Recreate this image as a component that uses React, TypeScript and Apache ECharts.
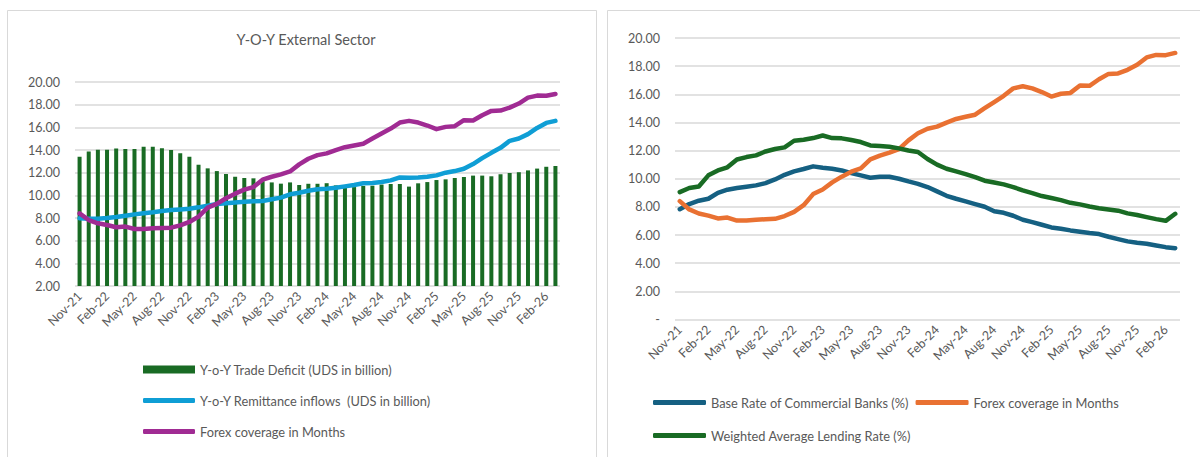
import React, { useEffect, useRef } from "react";
import * as echarts from "echarts";

const months = [
  "Nov-21", "Dec-21", "Jan-22", "Feb-22", "Mar-22", "Apr-22", "May-22", "Jun-22", "Jul-22", "Aug-22", "Sep-22", "Oct-22",
  "Nov-22", "Dec-22", "Jan-23", "Feb-23", "Mar-23", "Apr-23", "May-23", "Jun-23", "Jul-23", "Aug-23", "Sep-23", "Oct-23",
  "Nov-23", "Dec-23", "Jan-24", "Feb-24", "Mar-24", "Apr-24", "May-24", "Jun-24", "Jul-24", "Aug-24", "Sep-24", "Oct-24",
  "Nov-24", "Dec-24", "Jan-25", "Feb-25", "Mar-25", "Apr-25", "May-25", "Jun-25", "Jul-25", "Aug-25", "Sep-25", "Oct-25",
  "Nov-25", "Dec-25", "Jan-26", "Feb-26", "Mar-26",
];

const tradeDeficit = [
  13.40, 13.87, 14.02, 14.02, 14.13, 14.08, 14.08, 14.28, 14.28, 14.16, 13.99, 13.72,
  13.40, 12.70, 12.38, 12.14, 11.88, 11.64, 11.53, 11.50, 11.25, 11.14, 11.03, 11.14,
  10.91, 11.02, 11.02, 11.07, 10.88, 10.75, 10.73, 10.83, 10.85, 10.95, 11.00, 11.00,
  10.77, 11.06, 11.17, 11.35, 11.41, 11.53, 11.62, 11.74, 11.74, 11.68, 11.86, 11.97,
  12.04, 12.20, 12.36, 12.52, 12.59,
];

const remittance = [
  7.97, 7.94, 7.94, 8.00, 8.09, 8.20, 8.32, 8.41, 8.50, 8.62, 8.70, 8.76,
  8.82, 8.94, 9.09, 9.24, 9.30, 9.37, 9.43, 9.47, 9.50, 9.65, 9.80, 10.09,
  10.23, 10.41, 10.53, 10.59, 10.67, 10.79, 10.91, 11.06, 11.09, 11.17, 11.32, 11.58,
  11.55, 11.58, 11.64, 11.76, 12.00, 12.14, 12.35, 12.76, 13.28, 13.75, 14.19, 14.81,
  15.01, 15.40, 15.95, 16.39, 16.57,
];

const forexCoverage = [
  8.41, 7.82, 7.53, 7.38, 7.18, 7.24, 7.03, 7.03, 7.09, 7.12, 7.15, 7.35,
  7.65, 8.12, 8.91, 9.24, 9.74, 10.15, 10.50, 10.73, 11.38, 11.64, 11.85, 12.11,
  12.73, 13.23, 13.55, 13.70, 13.99, 14.25, 14.40, 14.55, 15.01, 15.45, 15.89, 16.42,
  16.57, 16.42, 16.16, 15.84, 16.04, 16.10, 16.63, 16.60, 17.07, 17.45, 17.48, 17.74,
  18.10, 18.62, 18.80, 18.78, 18.94,
];

const baseRate = [
  7.84, 8.20, 8.44, 8.58, 9.00, 9.22, 9.34, 9.43, 9.53, 9.69, 9.95, 10.28,
  10.52, 10.69, 10.88, 10.78, 10.71, 10.59, 10.40, 10.24, 10.07, 10.14, 10.14, 10.00,
  9.81, 9.64, 9.41, 9.10, 8.79, 8.58, 8.39, 8.20, 8.01, 7.69, 7.58, 7.37,
  7.09, 6.92, 6.73, 6.54, 6.45, 6.33, 6.23, 6.14, 6.07, 5.88, 5.71, 5.55,
  5.45, 5.38, 5.26, 5.14, 5.07,
];

const lendingRate = [
  9.05, 9.34, 9.45, 10.24, 10.59, 10.81, 11.37, 11.54, 11.66, 11.94, 12.11, 12.23,
  12.70, 12.77, 12.89, 13.07, 12.89, 12.87, 12.75, 12.61, 12.37, 12.32, 12.27, 12.16,
  12.01, 11.90, 11.40, 11.00, 10.71, 10.52, 10.33, 10.12, 9.86, 9.73, 9.60, 9.41,
  9.17, 8.98, 8.77, 8.63, 8.48, 8.29, 8.18, 8.03, 7.91, 7.82, 7.73, 7.54,
  7.42, 7.27, 7.13, 7.01, 7.51,
];

const names = {
  trade: "Y-o-Y Trade Deficit (UDS in billion)",
  remit: "Y-o-Y Remittance inflows  (UDS in billion)",
  forexL: "Forex coverage in Months",
  base: "Base Rate of Commercial Banks (%)",
  forexR: "Forex coverage in Months ",
  walr: "Weighted Average Lending Rate (%)",
};

const C = {
  bar: "#196B24",
  remit: "#0F9ED5",
  purple: "#A02B93",
  base: "#156082",
  orange: "#E97132",
  green: "#196B24",
  text: "#595959",
  grid: "#D9D9D9",
};

const FONT = "Lato";

function xAxis(gridIndex: number) {
  return {
    type: "category",
    gridIndex,
    data: months,
    boundaryGap: true,
    axisLine: { show: false },
    axisTick: { show: false },
    axisLabel: {
      interval: 2,
      rotate: 45,
      margin: 8,
      color: C.text,
      fontSize: 12.5,
      fontFamily: FONT,
    },
  };
}

function yAxis(gridIndex: number, min: number, zeroDash: boolean) {
  return {
    type: "value",
    gridIndex,
    min,
    max: 20,
    interval: 2,
    axisLine: { show: false },
    axisTick: { show: false },
    splitLine: { lineStyle: { color: C.grid, width: 1.5 } },
    axisLabel: {
      margin: 15,
      color: C.text,
      fontSize: 12.5,
      fontFamily: FONT,
      formatter: (v: number) => (zeroDash && v === 0 ? "-" : v.toFixed(2)),
    },
  };
}

function lineSeries(name: string, data: number[], color: string, idx: number) {
  return {
    name,
    type: "line",
    xAxisIndex: idx,
    yAxisIndex: idx,
    data,
    symbol: "none",
    lineStyle: { color, width: 4.5, cap: "round", join: "round" },
    itemStyle: { color },
    z: 3,
  };
}

const legendText = { color: C.text, fontSize: 12.8, fontFamily: FONT };

export default function App() {
  const ref = useRef<HTMLDivElement>(null);
  useEffect(() => {
    const chart = echarts.init(ref.current!, null, { renderer: "svg" });
    chart.setOption({
      animation: false,
      backgroundColor: "#ffffff",
      textStyle: { fontFamily: FONT },
      graphic: [
        { type: "rect", shape: { x: 7.5, y: 10.5, width: 589, height: 460 }, style: { fill: "none", stroke: "#D9D9D9", lineWidth: 1 }, silent: true },
        { type: "rect", shape: { x: 607.5, y: 10.5, width: 600, height: 460 }, style: { fill: "none", stroke: "#D9D9D9", lineWidth: 1 }, silent: true },
      ],
      title: {
        text: "Y-O-Y External Sector",
        left: 301,
        top: 27,
        textAlign: "center",
        textStyle: { color: C.text, fontSize: 14.5, fontWeight: "normal", fontFamily: FONT },
      },
      grid: [
        { left: 75, right: 640, top: 82, bottom: 171 },
        { left: 675, right: 20, top: 38, bottom: 137.5 },
      ],
      xAxis: [xAxis(0), xAxis(1)],
      yAxis: [yAxis(0, 2, false), yAxis(1, 0, true)],
      legend: [
        {
          data: [{ name: names.trade, icon: "rect" }],
          left: 138, top: 358, orient: "vertical",
          itemWidth: 52, itemHeight: 8, itemGap: 18,
          selectedMode: false, textStyle: legendText,
        },
        {
          data: [{ name: names.remit, icon: "roundRect" }, { name: names.forexL, icon: "roundRect" }],
          left: 138, top: 389, orient: "vertical",
          itemWidth: 52, itemHeight: 5, itemGap: 18,
          selectedMode: false, textStyle: legendText,
        },
        {
          data: [{ name: names.base, icon: "roundRect" }, { name: names.forexR, icon: "roundRect" }],
          left: 648, top: 391, orient: "horizontal",
          itemWidth: 53, itemHeight: 5, itemGap: 7,
          selectedMode: false, textStyle: legendText,
        },
        {
          data: [{ name: names.walr, icon: "roundRect" }],
          left: 648, top: 424, orient: "horizontal",
          itemWidth: 53, itemHeight: 5, itemGap: 7,
          selectedMode: false, textStyle: legendText,
        },
      ],
      series: [
        {
          name: names.trade,
          type: "bar",
          xAxisIndex: 0,
          yAxisIndex: 0,
          data: tradeDeficit,
          barWidth: 4,
          itemStyle: { color: C.bar },
          z: 2,
        },
        lineSeries(names.remit, remittance, C.remit, 0),
        lineSeries(names.forexL, forexCoverage, C.purple, 0),
        lineSeries(names.base, baseRate, C.base, 1),
        lineSeries(names.forexR, forexCoverage, C.orange, 1),
        lineSeries(names.walr, lendingRate, C.green, 1),
      ],
    });
    return () => chart.dispose();
  }, []);
  return (
    <div
      ref={ref}
      style={{ position: "absolute", left: 0, top: 0, width: 1200, height: 457 }}
    />
  );
}
